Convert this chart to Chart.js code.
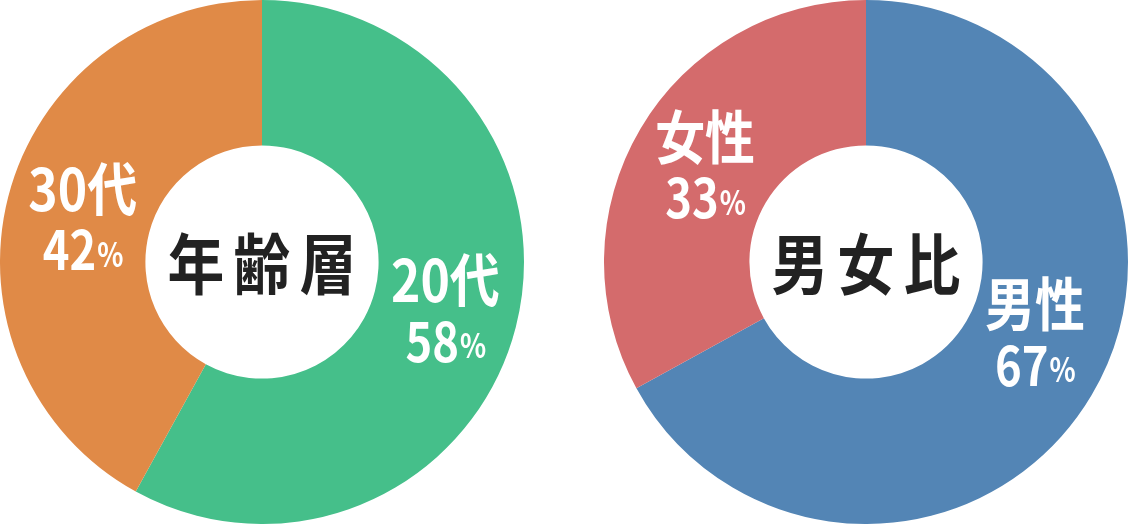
<!DOCTYPE html>
<html lang="ja">
<head>
<meta charset="utf-8">
<script src="https://cdn.jsdelivr.net/npm/chart.js@4/dist/chart.umd.min.js"></script>
<style>
  html, body { margin: 0; padding: 0; background: #fff; }
  .pie { position: absolute; top: 0; width: 524px; height: 524px; }
  #agePie { left: 0; }
  #genderPie { left: 604px; }
</style>
</head>
<body>
<div class="pie" id="agePie"><canvas id="ageChart" width="524" height="524"></canvas></div>
<div class="pie" id="genderPie"><canvas id="genderChart" width="524" height="524"></canvas></div>
<script>
const ageLabels = ["20代", "30代"];
const ageValues = [58, 42];
const ageColors = ["#45bf8a", "#e08a47"];

const genderLabels = ["男性", "女性"];
const genderValues = [67, 33];
const genderColors = ["#5385b5", "#d46b6c"];

const FONT = '"Noto Sans CJK JP", "Noto Sans", sans-serif';

function drawSqueezed(ctx, text, x, y, size, sx, align) {
  ctx.save();
  ctx.font = `bold ${size}px ${FONT}`;
  ctx.textAlign = align || "center";
  ctx.textBaseline = "middle";
  ctx.translate(x, y);
  ctx.scale(sx, 1);
  ctx.fillText(text, 0, 0);
  ctx.restore();
}

function textWidth(ctx, text, size, sx) {
  ctx.save();
  ctx.font = `bold ${size}px ${FONT}`;
  const w = ctx.measureText(text).width * sx;
  ctx.restore();
  return w;
}

// segment labels + centre title
const pieText = {
  id: "pieText",
  afterDatasetsDraw(chart, args, opts) {
    const ctx = chart.ctx;
    const meta = chart.getDatasetMeta(0);
    const values = chart.data.datasets[0].data;
    ctx.fillStyle = "#fff";
    meta.data.forEach((arc, i) => {
      const pos = arc.tooltipPosition();
      const off = (opts.offsets && opts.offsets[i]) || { x: 0, y: 0 };
      const cx = pos.x + off.x;
      const cy = pos.y + off.y;
      ctx.fillStyle = "#fff";
      drawSqueezed(ctx, chart.data.labels[i], cx, cy - 29, 58, 0.86);
      const num = String(values[i]);
      const wNum = textWidth(ctx, num, 54, 0.84);
      const wPct = textWidth(ctx, "%", 34, 0.8);
      const left = cx - (wNum + wPct) / 2;
      drawSqueezed(ctx, num, left, cy + 32, 54, 0.84, "left");
      drawSqueezed(ctx, "%", left + wNum + 1, cy + 36, 34, 0.8, "left");
    });
    const c = meta.data[0];
    ctx.fillStyle = "#222";
    const chars = Array.from(opts.title);
    const pitch = 66;
    chars.forEach((ch, k) => {
      drawSqueezed(ctx, ch, c.x + (k - (chars.length - 1) / 2) * pitch, c.y + 2, 66, 0.86);
    });
  }
};

function makePie(id, labels, values, colors, title, offsets) {
  return new Chart(document.getElementById(id), {
    type: "doughnut",
    data: {
      labels,
      datasets: [{ data: values, backgroundColor: colors, borderWidth: 0 }]
    },
    options: {
      responsive: false,
      animation: false,
      cutout: "44.5%",
      layout: { padding: 0 },
      plugins: {
        legend: { display: false },
        tooltip: { enabled: false },
        pieText: { title, offsets }
      }
    },
    plugins: [pieText]
  });
}

makePie("ageChart", ageLabels, ageValues, ageColors, "年齢層", [{ x: 0, y: 0 }, { x: 4, y: 3 }]);
makePie("genderChart", genderLabels, genderValues, genderColors, "男女比", [{ x: 6, y: -25 }, { x: 2, y: 0 }]);
</script>
</body>
</html>
